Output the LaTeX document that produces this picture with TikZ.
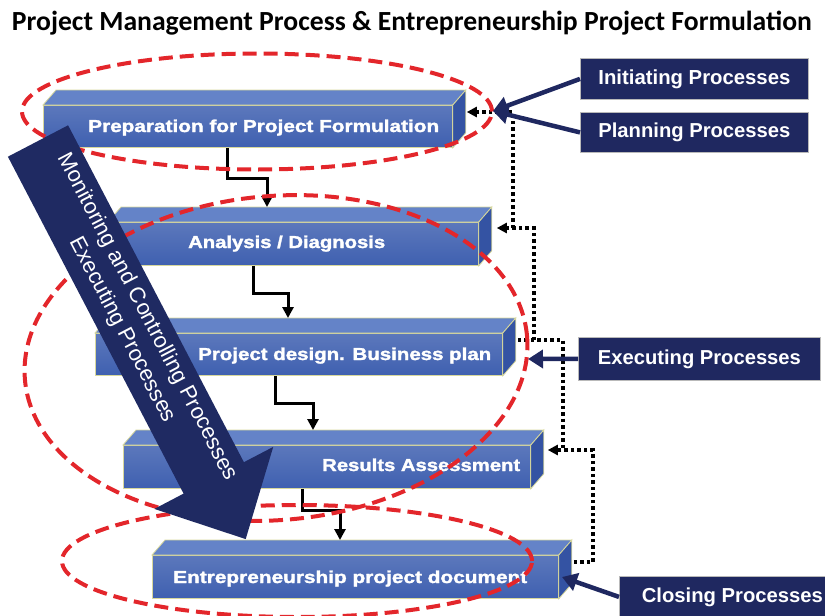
\documentclass[tikz,border=0pt]{standalone}
\usepackage{fontspec}
\setmainfont{Liberation Sans}
\newfontfamily\titlefont{Carlito}
\newfontfamily\slabfont{Liberation Sans}[UprightFont={* Bold}, FakeBold=1.6]
\usetikzlibrary{calc,arrows.meta}
\definecolor{navy}{HTML}{1F2860}
\definecolor{arrownavy}{HTML}{1F2A62}
\definecolor{boxfront}{HTML}{3F60B0}
\definecolor{boxtop}{HTML}{6483C8}
\definecolor{boxside}{HTML}{3453A3}
\definecolor{boxedge}{HTML}{D8D89C}
\definecolor{ellred}{HTML}{E3262B}
\begin{document}
\begin{tikzpicture}[x=1pt,y=-1pt,
  face/.style={top color=boxfront!85!white, bottom color=boxfront, draw=boxedge, line width=0.8pt, inner sep=0, anchor=north west},
  topface/.style={fill=boxtop, draw=boxedge, line width=0.8pt},
  sideface/.style={fill=boxside, draw=boxedge, line width=0.8pt},
  slabtext/.style={anchor=base west, inner sep=0, text=white, font=\slabfont},
  flow/.style={draw=black, line width=3pt, -{Triangle[length=11pt,width=11pt]}},
  fb/.style={draw=black, line width=3.5pt, dash pattern=on 3.5pt off 3pt},
  fbarrow/.style={fb, -{Triangle[length=10pt,width=10pt]}},
  ell/.style={draw=ellred, line width=4pt, dash pattern=on 14pt off 7pt},
  lab/.style={fill=navy, draw=gray!55, line width=0.8pt, text=white, font=\bfseries, inner sep=0, anchor=north west},
  navyarrow/.style={draw=navy, line width=4.5pt, -{Triangle[length=15pt,width=18pt]}},
]
\useasboundingbox (0,0) rectangle (825,616);
\clip (0,0) rectangle (825,616);

% title
\node[anchor=base, inner sep=0, font=\titlefont\bfseries] (title) at (412,30)
  {\resizebox{800pt}{!}{Project Management Process \& Entrepreneurship Project Formulation}};

% slabs
\foreach \n/\x/\y/\w/\h in {b1/43/105/409/42, b2/108/222/370/43, b3/95/333/407/42, b4/123/445/407/43, b5/152/555/406/43}{
  \node[face, minimum width=\w pt, minimum height=\h pt] (\n) at (\x,\y) {};
  \filldraw[topface] (\n.north west) -- ++(13,-15) -- ($(\n.north east)+(13,-15)$) -- (\n.north east) -- cycle;
  \filldraw[sideface] (\n.north east) -- ++(13,-15) -- ($(\n.south east)+(13,-15)$) -- (\n.south east) -- cycle;
}

\node[slabtext] (t1) at (88,132) {\resizebox{351pt}{12.5pt}{Preparation for Project Formulation}};
\node[slabtext] (t2) at (188,248) {\resizebox{197pt}{12.5pt}{Analysis / Diagnosis}};
\node[slabtext] (t3) at (198,360) {\resizebox{293pt}{12.5pt}{Project design. Business plan}};
\node[slabtext] (t4) at (322,471) {\resizebox{198pt}{12.5pt}{Results Assessment}};
\node[slabtext] (t5) at (173,583) {\resizebox{354pt}{12.5pt}{Entrepreneurship project document}};

% elbow connectors
\draw[flow] ($(b1.south west)+(184,0)$) -- ++(0,31) -| ($(b2.north west)+(159,-15)$);
\draw[flow] ($(b2.south west)+(145,0)$) -- ++(0,28) -| ($(b3.north west)+(193,-15)$);
\draw[flow] ($(b3.south west)+(180,0)$) -- ++(0,28) -| ($(b4.north west)+(190,-15)$);
\draw[flow] ($(b4.south west)+(179,0)$) -- ++(0,22) -| ($(b5.north west)+(188,-15)$);

% feedback dotted lines
\coordinate (r1) at ($(b1.north east)+(14,7)$);
\coordinate (r2) at ($(b2.north east)+(18,6)$);
\coordinate (r3) at ($(b3.north east)+(15,7)$);
\coordinate (r4) at ($(b4.north east)+(17,5)$);
\coordinate (r5) at ($(b5.north east)+(15,7)$);
\draw[fbarrow] (r5) -- ++(19,0) |- (r4);
\draw[fb] (r3) -- ++(45,0) -- ++(0,110);
\draw[fbarrow] ($(r3)+(16,0)$) |- (r2);
\draw[fbarrow] ($(r2)+(16,0)$) |- (r1);

% red dashed ellipses
\draw[ell] (257,111.5) ellipse [x radius=235pt, y radius=58pt];
\draw[ell, rotate around={5:(276,358)}] (276,358) ellipse [x radius=252pt, y radius=162pt];
\draw[ell] (297,561) ellipse [x radius=235pt, y radius=56pt];

% big arrow
\fill[arrownavy] (7.9,156.7) -- (68.1,125.3) -- (243.9,462.2) -- (273.2,446.9) -- (245.7,539.1) -- (154.4,508.9) -- (183.6,493.6) -- cycle;
\node[text=white, rotate=-62.45, align=center, inner sep=0, font=\fontsize{22pt}{28pt}\selectfont] (mc) at (134.8,323.5)
  {Monitoring and Controlling Processes\\Executing Processes};

% process labels
\node[lab, minimum width=228pt, minimum height=41pt] (init) at (580,58) {\resizebox{192pt}{!}{Initiating Processes}};
\node[lab, minimum width=228pt, minimum height=40pt] (plan) at (580,112) {\resizebox{192pt}{!}{Planning Processes}};
\node[lab, minimum width=242pt, minimum height=43pt] (exec) at (578,337) {\resizebox{203pt}{!}{Executing Processes}};
\node[lab, minimum width=226pt, minimum height=41pt] (close) at (619,576) {\resizebox{181pt}{!}{Closing Processes}};

\coordinate (tipA) at (493,111);
\coordinate (tipE) at (528,359);
\coordinate (tipC) at (562,577);
\draw[navyarrow] (init.west) -- (tipA);
\draw[navyarrow] (plan.west) -- (tipA);
\draw[navyarrow] (exec.west) -- (tipE);
\draw[navyarrow] (close.west) -- (tipC);
\end{tikzpicture}
\end{document}
